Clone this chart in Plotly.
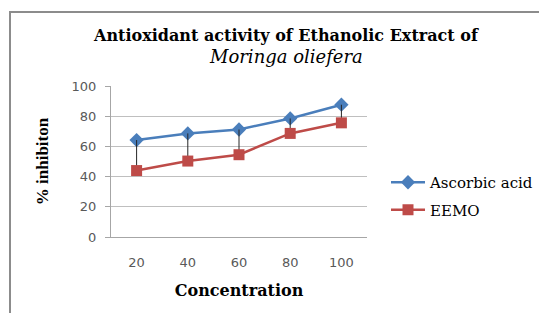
import plotly.graph_objects as go

concentrations = ["20", "40", "60", "80", "100"]
ascorbic_acid = [64.2, 68.6, 71.2, 78.5, 87.6]
eemo = [44.0, 50.3, 54.5, 68.6, 75.6]
y_ticks = [0, 20, 40, 60, 80, 100]

OFF = 8  # default page body margin
W, H = 547 - OFF, 313 - OFF
L, R, T, B = 111 - OFF, 367 - OFF, 86 - OFF, 237 - OFF

def px(p):
    return (p - OFF - L) / (R - L)

def py(q):
    return (B - (q - OFF)) / (B - T)

gap = [a - e for a, e in zip(ascorbic_acid, eemo)]

fig = go.Figure()
fig.add_trace(go.Scatter(
    x=concentrations, y=ascorbic_acid, name="Ascorbic acid",
    mode="lines+markers", legendgroup="a",
    line=dict(color="#4a7ebb", width=2.5),
    marker=dict(symbol="diamond", size=11, color="#4a7ebb"),
))
fig.add_trace(go.Scatter(
    x=concentrations, y=eemo, name="EEMO",
    mode="lines+markers", legendgroup="b",
    line=dict(color="#be4b48", width=2.5),
    marker=dict(symbol="square", size=11, color="#be4b48"),
    error_y=dict(type="data", array=gap, arrayminus=[0]*len(gap),
                 symmetric=False, color="#262626", thickness=1, width=0),
))

tickfont = dict(family="DejaVu Sans, sans-serif", size=13, color="#595959")
serif = "DejaVu Serif, Liberation Serif, serif"
serif_narrow = "Liberation Serif, Times New Roman, serif"

fig.update_layout(
    width=W, height=H,
    margin=dict(l=L, r=W - R, t=T, b=H - B, pad=0, autoexpand=False),
    paper_bgcolor="white", plot_bgcolor="white",
    showlegend=True,
    legend=dict(x=px(386), y=py(166), xanchor="left", yanchor="top",
                font=dict(family=serif, size=15, color="#000000"),
                bgcolor="rgba(0,0,0,0)", traceorder="grouped", tracegroupgap=5,
                itemwidth=34),
    xaxis=dict(
        type="category", range=[-0.5, len(concentrations) - 0.5],
        showgrid=False, showline=True, linecolor="#a6a6a6",
        linewidth=1, ticks="", tickfont=tickfont, ticklabelstandoff=13,
        title=dict(text="<b>Concentration</b>", font=dict(family=serif, size=16, color="#000"), standoff=16),
        fixedrange=True,
    ),
    yaxis=dict(
        range=[0, 100], tickvals=y_ticks, showgrid=True, gridcolor="#bfbfbf",
        gridwidth=1, showline=True, linecolor="#a6a6a6", linewidth=1,
        ticks="outside", ticklen=5, tickcolor="#a6a6a6", tickfont=tickfont,
        ticklabelstandoff=6, zeroline=False,
        title=dict(text="<b>% inhibiton</b>", font=dict(family=serif_narrow, size=17, color="#000"), standoff=18),
        fixedrange=True,
    ),
    annotations=[
        dict(text="<b>Antioxidant activity of Ethanolic Extract of</b>", x=px(286), y=py(35),
             xref="paper", yref="paper", showarrow=False, xanchor="center", yanchor="middle",
             font=dict(family=serif, size=16, color="#000")),
        dict(text="<i>Moringa oliefera</i>", x=px(286), y=py(57),
             xref="paper", yref="paper", showarrow=False, xanchor="center", yanchor="middle",
             font=dict(family=serif, size=18, color="#000")),
    ],
    shapes=[
        dict(type="path", xref="paper", yref="paper",
             path=f"M {px(10)},{py(330)} L {px(10)},{py(12)} L {px(560)},{py(12)}",
             line=dict(color="#8c8c8c", width=2)),
    ],
)

fig.write_html("out.html")
